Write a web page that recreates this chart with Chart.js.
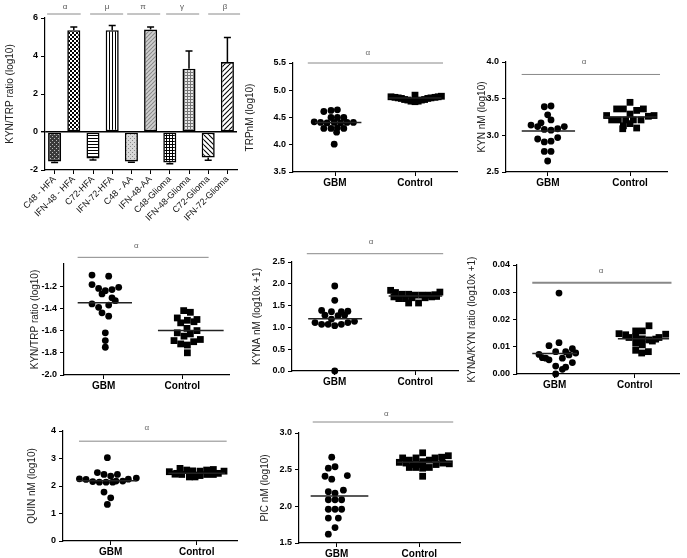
<!DOCTYPE html>
<html><head><meta charset="utf-8">
<script src="https://cdn.jsdelivr.net/npm/chart.js@4.4.1/dist/chart.umd.min.js"></script>
<style>
html,body{margin:0;padding:0;background:#fff;}
#wrap{position:relative;width:687px;height:558px;overflow:hidden;background:#fff;}
canvas{position:absolute;}
</style></head><body><div id="wrap"></div>
<script>
// ================= DATA =================
const barLabels = ['C48 - HFA','IFN-48 - HFA','C72-HFA','IFN-72-HFA','C48 - AA','IFN-48-AA','C48-Glioma','IFN-48-Glioma','C72-Glioma','IFN-72-Glioma'];
const barValues = [-1.55, 5.36, -1.39, 5.36, -1.55, 5.39, -1.60, 3.33, -1.34, 3.68];
const barErrors = [0.06, 0.16, 0.08, 0.25, 0.04, 0.13, 0.07, 0.93, 0.15, 1.29];
const barTicks = [-2, 0, 2, 4, 6];
const barSigLabels = ['α', 'μ', 'π', 'γ', 'β'];

const groupLabels = ['GBM', 'Control'];

const trpTicks = [3.5, 4.0, 4.5, 5.0, 5.5];
const trpGBM = [[0.86,4.61],[0.95,4.63],[1.03,4.64],[0.95,4.50],[1.03,4.50],[1.11,4.50],[0.74,4.42],[0.82,4.41],[0.90,4.40],[0.99,4.41],[1.07,4.40],[1.15,4.41],[1.23,4.41],[0.86,4.30],[0.95,4.30],[1.03,4.31],[1.11,4.30],[1.02,4.23],[0.99,4.01]];
const trpControl = [[1.70,4.88],[1.75,4.87],[1.79,4.86],[1.83,4.85],[1.87,4.83],[1.91,4.82],[1.95,4.80],[2.00,4.79],[2.04,4.80],[2.08,4.82],[2.12,4.83],[2.16,4.85],[2.20,4.86],[2.25,4.87],[2.29,4.88],[2.33,4.89],[2.00,4.91]];
const trpMedians = [4.41, 4.86];

const kynTicks = [2.5, 3.0, 3.5, 4.0];
const kynGBM = [[0.955,3.39],[1.037,3.40],[0.996,3.28],[0.793,3.14],[0.874,3.12],[0.915,3.17],[1.037,3.21],[0.955,3.08],[1.037,3.07],[1.118,3.09],[1.199,3.12],[0.874,2.95],[0.955,2.91],[1.037,2.92],[1.118,2.97],[0.955,2.78],[1.037,2.78],[0.996,2.65]];
const kynControl = [[2.0,3.45],[1.837,3.36],[1.919,3.36],[2.081,3.34],[2.163,3.36],[2.0,3.29],[1.715,3.27],[2.224,3.26],[2.293,3.27],[1.776,3.21],[1.858,3.21],[1.947,3.21],[2.041,3.21],[2.134,3.21],[1.919,3.13],[2.0,3.16],[2.081,3.10],[1.911,3.09]];
const kynMedians = [3.06, 3.25];

const kynTrpTicks = [-2.0, -1.8, -1.6, -1.4, -1.2];
const kynTrpGBM = [[0.852,-1.10],[1.064,-1.11],[0.852,-1.185],[0.936,-1.22],[1.021,-1.24],[0.979,-1.27],[1.106,-1.23],[1.191,-1.21],[1.106,-1.305],[1.148,-1.33],[0.852,-1.36],[0.936,-1.39],[1.064,-1.37],[0.979,-1.44],[1.064,-1.47],[1.021,-1.62],[1.021,-1.69],[1.021,-1.75]];
const kynTrpControl = [[2.017,-1.42],[2.102,-1.435],[1.936,-1.486],[2.186,-1.50],[2.064,-1.507],[2.148,-1.52],[1.979,-1.53],[2.059,-1.58],[2.186,-1.60],[1.936,-1.62],[2.102,-1.63],[2.021,-1.65],[1.894,-1.69],[2.229,-1.68],[1.979,-1.72],[2.144,-1.70],[2.064,-1.73],[2.064,-1.80]];
const kynTrpMedians = [-1.35, -1.60];

const kynaTicks = [0, 0.5, 1.0, 1.5, 2.0, 2.5];
const kynaGBM = [[1.0,1.95],[1.0,1.62],[0.837,1.39],[0.959,1.36],[1.082,1.36],[1.163,1.37],[0.878,1.28],[1.041,1.27],[1.122,1.28],[0.959,1.19],[0.755,1.11],[0.837,1.07],[0.918,1.07],[1.0,1.04],[1.082,1.07],[1.163,1.11],[1.245,1.14],[1.0,0.0]];
const kynaControl = [[1.694,1.85],[1.755,1.80],[1.837,1.76],[1.918,1.76],[2.0,1.74],[2.082,1.74],[2.163,1.74],[2.245,1.75],[2.306,1.81],[1.735,1.70],[1.796,1.66],[1.878,1.66],[1.959,1.68],[2.122,1.68],[2.204,1.70],[2.265,1.71],[1.918,1.56],[2.041,1.56]];
const kynaMedians = [1.20, 1.72];

const ratioTicks = [0, 0.01, 0.02, 0.03, 0.04];
const ratioGBM = [[1.054,0.0297],[0.929,0.0104],[1.054,0.0115],[1.221,0.0093],[1.0125,0.0082],[1.1375,0.0082],[1.2625,0.0077],[0.804,0.0072],[1.179,0.0070],[0.8875,0.0058],[0.929,0.0052],[1.096,0.0058],[1.221,0.0042],[1.0125,0.0029],[1.1375,0.0025],[1.096,0.0017],[1.0125,0.0],[0.846,0.0060]];
const ratioControl = [[2.179,0.0177],[2.096,0.0158],[2.0125,0.0158],[1.804,0.0148],[1.8875,0.0144],[2.3875,0.0146],[1.929,0.0134],[2.0125,0.0137],[2.304,0.0134],[2.2625,0.0128],[2.221,0.0121],[2.179,0.0125],[2.096,0.0129],[2.0125,0.0113],[2.096,0.0107],[2.0125,0.0087],[2.171,0.0082],[2.0875,0.0077]];
const ratioMedians = [0.0075, 0.0129];

const quinTicks = [0, 1, 2, 3, 4];
const quinGBM = [[0.636,2.26],[0.713,2.24],[0.791,2.16],[0.868,2.14],[0.946,2.14],[1.023,2.14],[1.062,2.18],[1.140,2.18],[1.205,2.25],[1.298,2.29],[0.845,2.49],[0.922,2.42],[1.078,2.42],[1.0,2.36],[0.961,3.03],[0.922,1.78],[1.0,1.57],[0.961,1.33]];
const quinControl = [[1.682,2.52],[1.748,2.43],[1.806,2.64],[1.826,2.42],[1.884,2.58],[1.953,2.55],[1.973,2.40],[2.039,2.54],[2.116,2.58],[2.194,2.60],[2.252,2.46],[2.318,2.54],[1.915,2.33],[1.981,2.33],[2.039,2.38],[2.116,2.42],[1.767,2.46],[2.194,2.42]];
const quinMedians = [2.19, 2.46];

const picTicks = [1.5, 2.0, 2.5, 3.0];
const picGBM = [[0.94,2.67],[0.899,2.52],[0.98,2.54],[0.859,2.41],[0.94,2.37],[1.129,2.42],[0.899,2.20],[1.081,2.22],[0.98,2.18],[0.899,2.09],[0.98,2.09],[1.06,2.09],[0.899,1.96],[0.98,1.96],[1.06,1.96],[0.899,1.84],[1.02,1.84],[0.98,1.71],[0.899,1.62]];
const picControl = [[2.04,2.73],[1.798,2.66],[1.879,2.63],[1.96,2.66],[2.27,2.67],[2.351,2.69],[2.19,2.66],[1.758,2.60],[1.839,2.59],[2.121,2.63],[2.04,2.61],[1.919,2.57],[2.0,2.57],[2.202,2.57],[2.282,2.59],[2.363,2.58],[1.879,2.53],[1.96,2.53],[2.04,2.52],[2.121,2.53],[2.04,2.41]];
const picMedians = [2.14, 2.60];

// ================= HELPERS =================
Chart.defaults.font.family = '"Liberation Sans", Arial, sans-serif';
Chart.defaults.color = '#000';
const wrap = document.getElementById('wrap');

function mkCanvas(left, top, w, h) {
  const c = document.createElement('canvas');
  c.width = Math.round(w); c.height = Math.round(h);
  c.style.left = left + 'px'; c.style.top = top + 'px';
  wrap.appendChild(c);
  return c;
}

function tile(size, bg, draw) {
  const c = document.createElement('canvas');
  c.width = c.height = size;
  const g = c.getContext('2d');
  g.fillStyle = bg; g.fillRect(0, 0, size, size);
  draw(g, size);
  return g.createPattern(c, 'repeat');
}
function diag(g, s, color, dir) {
  g.strokeStyle = color; g.lineWidth = 1.1;
  for (let k = -1; k <= 1; k++) {
    g.beginPath();
    if (dir > 0) { g.moveTo(0, s + k * s); g.lineTo(s, k * s); }
    else { g.moveTo(0, k * s); g.lineTo(s, s + k * s); }
    g.stroke();
  }
}
const barPatterns = [
  tile(4, '#3a3a3a', (g) => { g.fillStyle = '#bbb'; g.fillRect(0,0,1,1); g.fillRect(2,2,1,1); }),
  tile(4, '#fff', (g) => { g.fillStyle = '#000'; g.fillRect(0,0,2,2); g.fillRect(2,2,2,2); }),
  tile(3, '#fff', (g) => { g.fillStyle = '#000'; g.fillRect(0,0,3,1); }),
  tile(3, '#fff', (g) => { g.fillStyle = '#000'; g.fillRect(0,0,1,3); }),
  tile(4, '#d8d8d8', (g) => { g.fillStyle = '#888'; g.fillRect(0,0,1,1); g.fillRect(2,2,1,1); }),
  tile(4, '#cfcfcf', (g, s) => diag(g, s, '#8a8a8a', 1)),
  tile(3, '#fff', (g) => { g.fillStyle = '#000'; g.fillRect(0,0,3,1); g.fillRect(0,0,1,3); }),
  tile(3, '#e8e8e8', (g) => { g.fillStyle = '#777'; g.fillRect(0,0,3,1); g.fillRect(0,0,1,3); }),
  tile(5, '#fff', (g, s) => diag(g, s, '#000', -1)),
  tile(5, '#fff', (g, s) => diag(g, s, '#000', 1))
];

const sigPlugin = {
  id: 'sig',
  afterDraw(chart, args, o) {
    const { ctx, scales: { x, y } } = chart;
    ctx.save();
    o.items.forEach(it => {
      const py = y.getPixelForValue(it.y);
      ctx.strokeStyle = o.lineColor; ctx.lineWidth = o.lineWidth;
      ctx.beginPath();
      ctx.moveTo(x.getPixelForValue(it.x0), py);
      ctx.lineTo(x.getPixelForValue(it.x1), py);
      ctx.stroke();
      ctx.fillStyle = o.textColor;
      ctx.font = o.fontSize + 'px "Liberation Sans", Arial, sans-serif';
      ctx.textAlign = 'center'; ctx.textBaseline = 'middle';
      ctx.fillText(it.label, x.getPixelForValue(it.tx), y.getPixelForValue(it.ty));
    });
    ctx.restore();
  }
};

const errorBarPlugin = {
  id: 'errBars',
  afterDatasetsDraw(chart) {
    const { ctx, scales: { y } } = chart;
    const meta = chart.getDatasetMeta(0);
    ctx.save(); ctx.strokeStyle = '#000'; ctx.lineWidth = 1.5;
    meta.data.forEach((bar, i) => {
      const v = barValues[i], e = barErrors[i];
      const end = v >= 0 ? v + e : v - e;
      const y0 = y.getPixelForValue(v), y1 = y.getPixelForValue(end);
      ctx.beginPath();
      ctx.moveTo(bar.x, y0); ctx.lineTo(bar.x, y1);
      ctx.moveTo(bar.x - 3.5, y1); ctx.lineTo(bar.x + 3.5, y1);
      ctx.stroke();
    });
    ctx.restore();
  }
};

const pts = arr => arr.map(p => ({ x: p[0], y: p[1] }));

// ================= PANEL 1: BAR CHART =================
(function () {
  const area = { l: 45, t: 18, r: 237, b: 169.5 };
  const cLeft = 4, cTop = 0, B = 62, R = 6;
  const yW = area.l - cLeft;
  const c = mkCanvas(cLeft, cTop, area.r - cLeft + R, area.b - cTop + B);
  new Chart(c, {
    type: 'bar',
    data: {
      labels: barLabels,
      datasets: [{
        data: barValues,
        backgroundColor: barPatterns,
        borderColor: '#000', borderWidth: 1.6, borderSkipped: false,
        barPercentage: 0.68, categoryPercentage: 1
      }]
    },
    options: {
      responsive: false, animation: false, devicePixelRatio: 1,
      layout: { padding: { top: area.t - cTop, right: R, left: 0, bottom: 0 } },
      plugins: {
        legend: { display: false }, tooltip: { enabled: false },
        sig: {
          lineColor: '#8a8a8a', lineWidth: 1, textColor: '#555', fontSize: 8,
          items: [
            { label: barSigLabels[0], x0: -0.39, x1: 1.36, y: 6.21, tx: 0.55, ty: 6.58 },
            { label: barSigLabels[1], x0: 1.85, x1: 3.57, y: 6.21, tx: 2.73, ty: 6.58 },
            { label: barSigLabels[2], x0: 3.78, x1: 5.5, y: 6.21, tx: 4.61, ty: 6.58 },
            { label: barSigLabels[3], x0: 5.81, x1: 7.53, y: 6.21, tx: 6.64, ty: 6.58 },
            { label: barSigLabels[4], x0: 8.0, x1: 9.66, y: 6.21, tx: 8.88, ty: 6.58 }
          ]
        }
      },
      scales: {
        x: {
          ticks: { font: { size: 9 }, minRotation: 45, maxRotation: 45, autoSkip: false, padding: 0, color: '#111' },
          grid: { drawOnChartArea: false, offset: false, tickLength: 4, color: '#000' },
          border: { color: '#000', width: 1.2 },
          afterFit: s => { s.height = B; }
        },
        y: {
          min: -2, max: 6,
          afterBuildTicks: s => { s.ticks = barTicks.map(v => ({ value: v })); },
          ticks: { font: { size: 9, weight: 'bold' }, padding: 3, color: '#000' },
          grid: {
            drawOnChartArea: true, tickLength: 4,
            color: ctx => (ctx.tick && ctx.tick.value === 0) ? '#000' : 'rgba(0,0,0,0)',
            lineWidth: ctx => (ctx.tick && ctx.tick.value === 0) ? 1.4 : 1,
            tickColor: '#000'
          },
          border: { color: '#000', width: 1.2 },
          title: { display: true, text: 'KYN/TRP ratio (log10)', font: { size: 10 }, padding: 0, color: '#222' },
          afterFit: s => { s.width = yW; }
        }
      }
    },
    plugins: [errorBarPlugin, sigPlugin]
  });
})();

// ================= SCATTER PANELS =================
function scatterPanel(p) {
  const cLeft = Math.round(p.titleX - 6), cTop = p.top, B = 18, R = 6;
  const yW = p.area.l - cLeft;
  const c = mkCanvas(cLeft, cTop, p.area.r - cLeft + R, p.area.b - cTop + B);
  const medLine = (center, span, val) => [{ x: center + span[0], y: val }, { x: center + span[1], y: val }];
  new Chart(c, {
    type: 'scatter',
    data: {
      datasets: [
        { data: medLine(1, p.medSpans[0], p.medians[0]), showLine: true, borderColor: '#222', borderWidth: 1.5, pointRadius: 0, clip: false },
        { data: medLine(2, p.medSpans[1], p.medians[1]), showLine: true, borderColor: '#222', borderWidth: 1.5, pointRadius: 0, clip: false },
        { data: pts(p.gbm), pointStyle: 'circle', pointRadius: 3.4, backgroundColor: '#000', borderWidth: 0, clip: false },
        { data: pts(p.control), pointStyle: 'rect', pointRadius: 4.8, backgroundColor: '#000', borderWidth: 0, clip: false }
      ]
    },
    options: {
      responsive: false, animation: false, devicePixelRatio: 1,
      layout: { padding: { top: p.area.t - cTop, right: R, left: 0, bottom: 0 } },
      plugins: {
        legend: { display: false }, tooltip: { enabled: false },
        sig: {
          lineColor: '#888', lineWidth: p.sigWidth || 1, textColor: '#666', fontSize: 8,
          items: [{ label: 'α', x0: p.sig.x0, x1: p.sig.x1, y: p.sig.y, tx: p.sig.tx, ty: p.sig.ty }]
        }
      },
      scales: {
        x: {
          type: 'linear', min: p.xr[0], max: p.xr[1],
          afterBuildTicks: s => { s.ticks = [{ value: 1 }, { value: 2 }]; },
          ticks: { callback: v => groupLabels[Math.round(v) - 1], font: { size: 10, weight: 'bold' }, maxRotation: 0, autoSkip: false, padding: 1, color: '#000' },
          grid: { drawOnChartArea: false, tickLength: 4, color: '#000' },
          border: { color: '#000', width: 1.2 },
          afterFit: s => { s.height = B; }
        },
        y: {
          min: p.yr[0], max: p.yr[1],
          afterBuildTicks: s => { s.ticks = p.ticks.map(v => ({ value: v })); },
          ticks: { callback: v => Number(v).toFixed(p.dec), font: { size: 9, weight: 'bold' }, padding: 3, color: '#000' },
          grid: { drawOnChartArea: false, tickLength: 4, color: '#000' },
          border: { color: '#000', width: 1.2 },
          title: { display: true, text: p.title, font: { size: 10 }, padding: 0, color: '#222' },
          afterFit: s => { s.width = yW; }
        }
      }
    },
    plugins: [sigPlugin]
  });
}

scatterPanel({ title: 'TRPnM (log10)', area: { l: 293, t: 63, r: 457, b: 172 }, titleX: 250, top: 40,
  xr: [0.475, 2.525], yr: [3.5, 5.5], ticks: trpTicks, dec: 1, gbm: trpGBM, control: trpControl, medians: trpMedians,
  medSpans: [[-0.25, 0.33], [-0.33, 0.33]], sig: { x0: 0.66, x1: 2.35, y: 5.5, tx: 1.41, ty: 5.68 } });

scatterPanel({ title: 'KYN nM (log10)', area: { l: 506, t: 62, r: 667, b: 172 }, titleX: 482, top: 45,
  xr: [0.488, 2.451], yr: [2.5, 4.0], ticks: kynTicks, dec: 1, gbm: kynGBM, control: kynControl, medians: kynMedians,
  medSpans: [[-0.32, 0.33], [-0.325, 0.325]], sig: { x0: 0.679, x1: 2.366, y: 3.83, tx: 1.44, ty: 4.0 } });

scatterPanel({ title: 'KYN/TRP ratio (log10)', area: { l: 64, t: 264, r: 229, b: 375 }, titleX: 35, top: 235,
  xr: [0.496, 2.593], yr: [-2.0, -1.0], ticks: kynTrpTicks, dec: 1, gbm: kynTrpGBM, control: kynTrpControl, medians: kynTrpMedians,
  medSpans: [[-0.33, 0.36], [-0.31, 0.525]], sig: { x0: 0.669, x1: 2.334, y: -0.94, tx: 1.415, ty: -0.84 } });

scatterPanel({ title: 'KYNA nM (log10x +1)', area: { l: 292, t: 262, r: 458, b: 371 }, titleX: 257, top: 232,
  xr: [0.469, 2.531], yr: [0, 2.5], ticks: kynaTicks, dec: 1, gbm: kynaGBM, control: kynaControl, medians: kynaMedians,
  medSpans: [[-0.33, 0.34], [-0.33, 0.335]], sig: { x0: 0.653, x1: 2.347, y: 2.69, tx: 1.45, ty: 2.97 } });

scatterPanel({ title: 'KYNA/KYN ratio (log10x +1)', area: { l: 517, t: 265, r: 679, b: 374 }, titleX: 472, top: 240,
  xr: [0.529, 2.554], yr: [0, 0.04], ticks: ratioTicks, dec: 2, gbm: ratioGBM, control: ratioControl, medians: ratioMedians,
  medSpans: [[-0.28, 0.28], [-0.21, 0.43]], sig: { x0: 0.72, x1: 2.46, y: 0.0335, tx: 1.58, ty: 0.038 }, sigWidth: 2 });

scatterPanel({ title: 'QUIN nM (log10)', area: { l: 63, t: 431, r: 237, b: 541 }, titleX: 32, top: 415,
  xr: [0.445, 2.469], yr: [0, 4], ticks: quinTicks, dec: 0, gbm: quinGBM, control: quinControl, medians: quinMedians,
  medSpans: [[-0.39, 0.30], [-0.33, 0.33]], sig: { x0: 0.631, x1: 2.349, y: 3.63, tx: 1.42, ty: 4.1 } });

scatterPanel({ title: 'PIC nM (log10)', area: { l: 299, t: 433, r: 460, b: 542.5 }, titleX: 265, top: 405,
  xr: [0.544, 2.492], yr: [1.5, 3.0], ticks: picTicks, dec: 1, gbm: picGBM, control: picControl, medians: picMedians,
  medSpans: [[-0.315, 0.383], [-0.266, 0.39]], sig: { x0: 0.71, x1: 2.41, y: 3.15, tx: 1.60, ty: 3.265 } });
</script>
</body></html>
